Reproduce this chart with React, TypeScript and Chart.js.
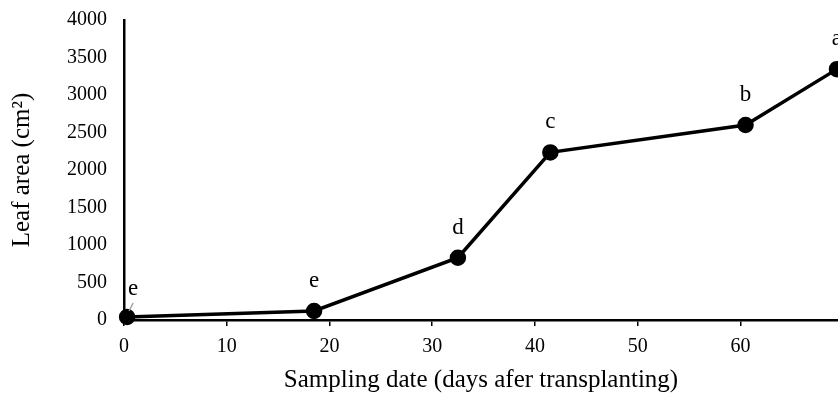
import React, { useEffect, useRef } from "react";
import { Chart, registerables } from "chart.js";

Chart.register(...registerables);

const days = [0.3, 18.5, 32.5, 41.5, 60.5, 69.4];
const leafArea = [40, 120, 830, 2235, 2600, 3345];
const letters = ["e", "e", "d", "c", "b", "a"];
const yTicks = [0, 500, 1000, 1500, 2000, 2500, 3000, 3500, 4000];
const xTicks = [0, 10, 20, 30, 40, 50, 60];

const FONT = "'Liberation Serif', 'Times New Roman', serif";

const letterPlugin = {
  id: "letters",
  afterDatasetsDraw(chart: any) {
    const ctx = chart.ctx;
    const meta = chart.getDatasetMeta(0);
    ctx.save();
    ctx.font = `23px ${FONT}`;
    ctx.fillStyle = "#000";
    ctx.textAlign = "center";
    ctx.textBaseline = "middle";
    meta.data.forEach((pt: any, i: number) => {
      if (i === 0) {
        ctx.fillText(letters[i], pt.x + 6, pt.y - 28);
        ctx.strokeStyle = "#a0a0a0";
        ctx.lineWidth = 1.5;
        ctx.beginPath();
        ctx.moveTo(pt.x + 6, pt.y - 14);
        ctx.lineTo(pt.x + 2, pt.y - 6);
        ctx.stroke();
      } else {
        ctx.fillText(letters[i], pt.x, pt.y - 30);
      }
    });
    ctx.restore();
  },
};

export default function App() {
  const ref = useRef<HTMLCanvasElement>(null);
  useEffect(() => {
    document.body.style.margin = "0";
    const chart = new Chart(ref.current!, {
      type: "scatter",
      data: {
        datasets: [
          {
            data: days.map((d, i) => ({ x: d, y: leafArea[i] })),
            showLine: true,
            borderColor: "#000",
            backgroundColor: "#000",
            borderWidth: 3.5,
            pointRadius: 6.5,
            pointHoverRadius: 6.5,
            pointBackgroundColor: "#000",
            pointBorderColor: "#000",
            clip: false as any,
          },
        ],
      },
      options: {
        animation: false,
        responsive: false,
        maintainAspectRatio: false,
        layout: { autoPadding: false, padding: { top: 20, right: 0, left: 0, bottom: 0 } },
        plugins: { legend: { display: false }, tooltip: { enabled: false } },
        scales: {
          x: {
            type: "linear",
            min: 0,
            max: 69.5,
            afterBuildTicks: (s: any) => {
              s.ticks = xTicks.map((v) => ({ value: v }));
            },
            afterFit: (s: any) => {
              s.height = 80;
              s.paddingLeft = 0;
              s.paddingRight = 0;
            },
            grid: {
              display: true,
              drawOnChartArea: false,
              drawTicks: true,
              tickLength: 6,
              color: "#000",
              lineWidth: 1.5,
            },
            border: { display: true, color: "#000", width: 2.5 },
            ticks: {
              color: "#000",
              font: { family: FONT, size: 20 },
              padding: 9,
              maxRotation: 0,
              callback: (v: any) => String(v),
            },
            title: {
              display: true,
              text: "Sampling date (days afer transplanting)",
              color: "#000",
              font: { family: FONT, size: 25 },
              padding: { top: 0, bottom: 5 },
            },
          },
          y: {
            type: "linear",
            min: 0,
            max: 4000,
            afterBuildTicks: (s: any) => {
              s.ticks = yTicks.map((v) => ({ value: v }));
            },
            afterFit: (s: any) => {
              s.width = 124;
              s.paddingTop = 0;
              s.paddingBottom = 0;
            },
            grid: { display: false, drawTicks: false },
            border: { display: true, color: "#000", width: 2.5 },
            ticks: {
              color: "#000",
              font: { family: FONT, size: 20 },
              padding: 17,
              callback: (v: any) => String(v),
            },
            title: {
              display: true,
              text: "Leaf area (cm²)",
              color: "#000",
              font: { family: FONT, size: 25 },
              padding: { top: 7, bottom: 0 },
            },
          },
        },
      },
      plugins: [letterPlugin],
    });
    return () => chart.destroy();
  }, []);
  return (
    <div style={{ width: 838, height: 400 }}>
      <canvas ref={ref} width={838} height={400} />
    </div>
  );
}
